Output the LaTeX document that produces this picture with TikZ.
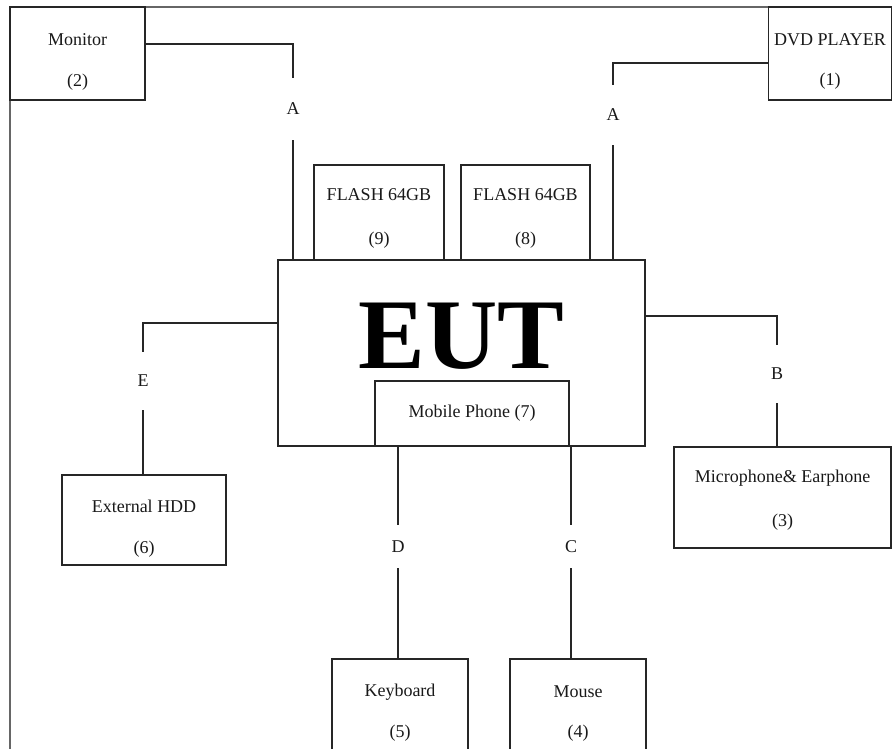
\documentclass[tikz,border=0pt]{standalone}
\usepackage{fontspec}
\setmainfont{Liberation Serif}
\begin{document}
\begin{tikzpicture}[x=1pt,y=-1pt,
  box/.style={draw=black!85,line width=1.3pt,rectangle,inner sep=0pt,fill=white},
  txt/.style={inner sep=0pt,font=\fontsize{18}{20}\selectfont,text=black!90},
  lbl/.style={inner sep=0pt,font=\fontsize{18}{20}\selectfont,text=black!90,minimum width=10pt},
  wire/.style={draw=black!85,line width=1.3pt},
  frame/.style={draw=black!60,line width=1.6pt}]
\useasboundingbox (0,0) rectangle (892,749);
\clip (0,0) rectangle (892,749);
% frame
\draw[frame] (10,760) -- (10,7) -- (900,7);
% boxes
\node[box,minimum width=135pt,minimum height=93pt] (mon) at (77.5,53.5) {};
\node[box,minimum width=123pt,minimum height=93pt] (dvd) at (830,53.5) {};
\node[box,minimum width=130pt,minimum height=95pt] (f9) at (379,212.5) {};
\node[box,minimum width=129pt,minimum height=95pt] (f8) at (525.5,212.5) {};
\node[box,minimum width=367pt,minimum height=186pt] (eut) at (461.5,353) {};
\node[box,minimum width=194pt,minimum height=65pt] (mob) at (472,413.5) {};
\node[box,minimum width=164pt,minimum height=90pt] (hdd) at (144,520) {};
\node[box,minimum width=217pt,minimum height=101pt] (mic) at (782.5,497.5) {};
\node[box,minimum width=136pt,minimum height=111pt] (kbd) at (400,714.5) {};
\node[box,minimum width=136pt,minimum height=111pt] (mou) at (578,714.5) {};
% texts
\node[txt] (tmon1) at (77.5,40) {Monitor};
\node[txt] (tmon2) at (77.5,82) {(2)};
\node[txt] (tdvd1) at (830,40) {DVD PLAYER};
\node[txt] (tdvd2) at (830,81) {(1)};
\node[txt] (tf91) at (379,195) {FLASH 64GB};
\node[txt] (tf92) at (379,240) {(9)};
\node[txt] (tf81) at (525.5,195) {FLASH 64GB};
\node[txt] (tf82) at (525.5,240) {(8)};
\node[inner sep=0pt,font=\fontsize{100}{100}\selectfont\bfseries,anchor=base] (teut) at (461.5,368) {EUT};
\node[txt] (tmob) at (472,413) {Mobile Phone (7)};
\node[txt] (thdd1) at (144,506) {External HDD};
\node[txt] (thdd2) at (144,549) {(6)};
\node[txt] (tmic1) at (782.5,478) {Microphone\& Earphone};
\node[txt] (tmic2) at (782.5,522) {(3)};
\node[txt] (tkbd1) at (400,692) {Keyboard};
\node[txt] (tkbd2) at (400,733) {(5)};
\node[txt] (tmou1) at (578,692) {Mouse};
\node[txt] (tmou2) at (578,733) {(4)};
% connector labels
\node[lbl,minimum height=62pt] (la1) at (293,109) {A};
\node[lbl,minimum height=60pt] (la2) at (613,115) {A};
\node[lbl,minimum height=58pt] (le) at (143,381) {E};
\node[lbl,minimum height=58pt] (lb) at (777,374) {B};
\node[lbl,minimum height=43pt] (ld) at (398,546.5) {D};
\node[lbl,minimum height=43pt] (lc) at (571,546.5) {C};
% connectors
\draw[wire] (mon.east |- 0,44) -| (la1.north);
\draw[wire] (la1.south) -- (la1.south |- eut.north);
\draw[wire] (dvd.west |- 0,63) -| (la2.north);
\draw[wire] (la2.south) -- (la2.south |- eut.north);
\draw[wire] (eut.west |- 0,323) -| (le.north);
\draw[wire] (le.south) -- (le.south |- hdd.north);
\draw[wire] (eut.east |- 0,316) -| (lb.north);
\draw[wire] (lb.south) -- (lb.south |- mic.north);
\draw[wire] (ld.north |- eut.south) -- (ld.north);
\draw[wire] (ld.south) -- (ld.south |- kbd.north);
\draw[wire] (lc.north |- eut.south) -- (lc.north);
\draw[wire] (lc.south) -- (lc.south |- mou.north);
\end{tikzpicture}
\end{document}
